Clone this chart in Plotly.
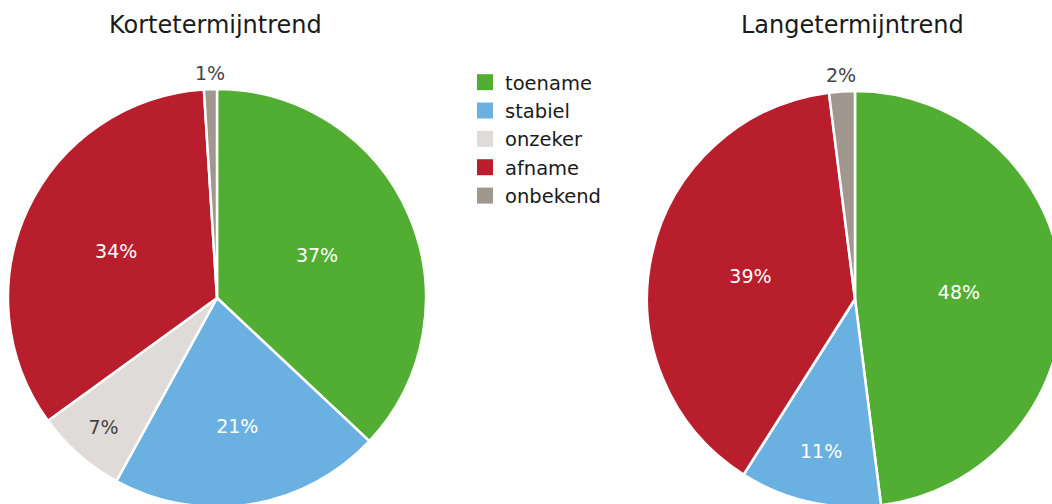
import math
import plotly.graph_objects as go

categories = ["toename", "stabiel", "onzeker", "afname", "onbekend"]
kort_values = [37, 21, 7, 34, 1]
lang_values = [48, 11, 0, 39, 2]
titles = ["Kortetermijntrend", "Langetermijntrend"]

colors = ["#52AE32", "#6AB1E2", "#DFDBD8", "#B81E2C", "#A0978F"]
text_colors = ["white", "white", "#444444", "white", "#444444"]
outside_idx = 4  # small slice labelled outside the pie

W, H = 1080, 520
FONT = "Verdana, DejaVu Sans, sans-serif"
pies = [(217, 298, 209), (855, 299, 208)]


def dom(cx, cy, r):
    return dict(x=[(cx - r) / W, (cx + r) / W], y=[(H - (cy + r)) / H, (H - (cy - r)) / H])


def templ(vals):
    return ["%{percent:.0%}" if (v > 0 and i != outside_idx) else ""
            for i, v in enumerate(vals)]


fig = go.Figure()
for vals, title, (cx, cy, r) in zip([kort_values, lang_values], titles, pies):
    fig.add_trace(go.Pie(
        labels=categories, values=vals, sort=False, direction="clockwise", rotation=0,
        marker=dict(colors=colors, line=dict(color="white", width=2.5)),
        texttemplate=templ(vals), textposition="inside",
        textfont=dict(family=FONT, size=19, color=text_colors),
        insidetextorientation="horizontal",
        domain=dom(cx, cy, r), hoverinfo="label+percent", name=title,
        showlegend=False,
    ))
    # outside label for the small slice, centred on its mid-angle
    total = sum(vals)
    start = sum(vals[:outside_idx]) / total
    mid = (start + vals[outside_idx] / total / 2) * 2 * math.pi
    rr = r + 16
    fig.add_annotation(
        text=f"{round(100 * vals[outside_idx] / total)}%",
        x=(cx + rr * math.sin(mid)) / W, y=(H - (cy - rr * math.cos(mid))) / H,
        xref="paper", yref="paper", showarrow=False, xanchor="center", yanchor="middle",
        font=dict(family=FONT, size=19, color="#444444"))

# legend entries
for cat, col in zip(categories, colors):
    fig.add_trace(go.Scatter(
        x=[None], y=[None], mode="markers", name=cat,
        marker=dict(symbol="square", size=16, color=col, line=dict(width=0)),
        showlegend=True, hoverinfo="skip",
    ))

for t, cx in zip(titles, [215, 852]):
    fig.add_annotation(text=t, x=cx / W, y=(H - 25) / H, xref="paper", yref="paper",
                       showarrow=False, xanchor="center", yanchor="middle",
                       font=dict(family=FONT, size=24, color="#1a1a1a"))

fig.update_layout(
    width=W, height=H, margin=dict(l=0, r=0, t=0, b=0),
    paper_bgcolor="white", plot_bgcolor="rgba(0,0,0,0)",
    font=dict(family=FONT, color="#1a1a1a"),
    xaxis=dict(visible=False), yaxis=dict(visible=False),
    legend=dict(x=465 / W, y=(H - 63) / H, xanchor="left", yanchor="top",
                font=dict(family=FONT, size=19.5, color="#1a1a1a"),
                bgcolor="rgba(0,0,0,0)", itemclick=False, itemdoubleclick=False),
)

fig.write_html("out.html", config={"displayModeBar": False}, post_script=(
    "document.body.style.margin='0';document.body.style.overflow='hidden';"
    "document.documentElement.style.overflow='hidden';"))
